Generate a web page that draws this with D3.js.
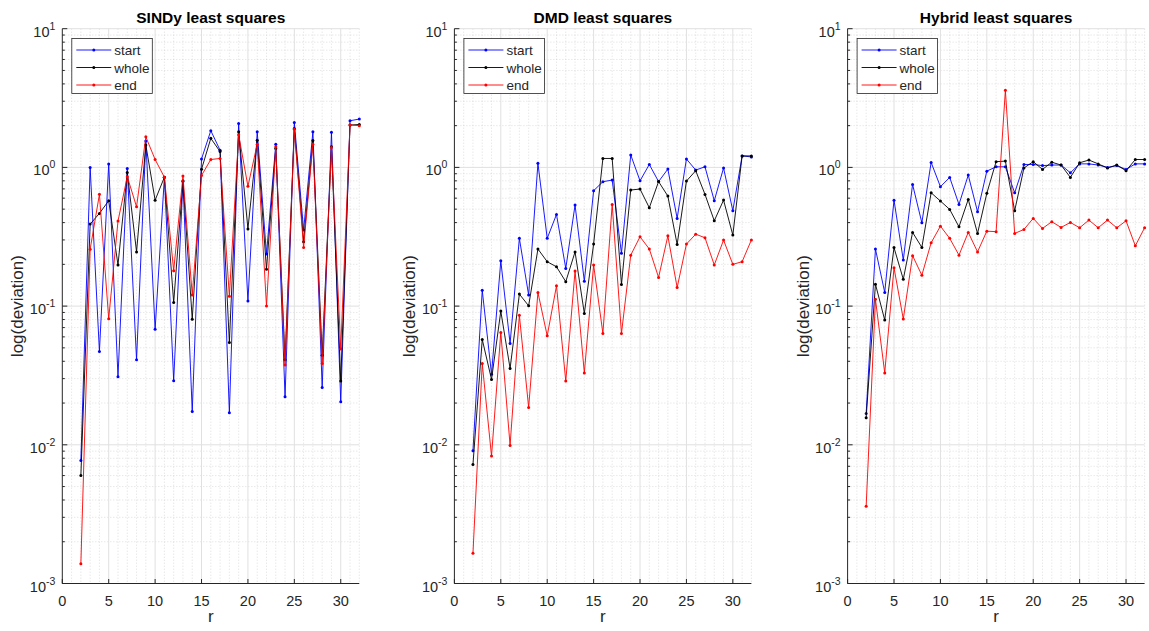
<!DOCTYPE html>
<html>
<head>
<meta charset="utf-8">
<script src="https://cdn.jsdelivr.net/npm/d3@7"></script>
<style>
  body { margin: 0; background: #fff; }
  svg { font-family: "Liberation Sans", Arial, Helvetica, sans-serif; display: block; }
</style>
</head>
<body>
<div id="chart"></div>
<script>
// r values on the x axis
var rValues = [2, 3, 4, 5, 6, 7, 8, 9, 10, 11, 12, 13, 14, 15, 16, 17,
  18, 19, 20, 21, 22, 23, 24, 25, 26, 27, 28, 29, 30, 31, 32];

var panelTitles = ["SINDy least squares", "DMD least squares", "Hybrid least squares"];
var seriesNames = ["start", "whole", "end"];
var seriesColors = ["#0000ff", "#000000", "#ff0000"];

var xTickValues = [0, 5, 10, 15, 20, 25, 30];
var yTickExponents = [-3, -2, -1, 0, 1];

// SINDy least squares
var sindyStart = [0.0077, 1.0, 0.047, 1.06, 0.031, 0.98, 0.041, 1.55, 0.068, 0.85, 0.029,
  0.79, 0.0174, 1.15, 1.84, 1.33, 0.017, 2.07, 0.109, 1.81, 0.237, 1.47, 0.0222, 2.11,
  0.353, 1.81, 0.0259, 1.79, 0.0204, 2.17, 2.23];
var sindyWhole = [0.006, 0.39, 0.466, 0.575, 0.198, 0.92, 0.246, 1.45, 0.58, 0.85, 0.106,
  0.80, 0.0805, 0.97, 1.62, 1.3, 0.0547, 1.81, 0.36, 1.57, 0.184, 1.37, 0.041, 1.91,
  0.291, 1.56, 0.0443, 1.41, 0.0288, 2.02, 2.04];
var sindyEnd = [0.00139, 0.257, 0.64, 0.081, 0.41, 0.857, 0.52, 1.66, 1.14, 0.85, 0.18,
  0.866, 0.12, 0.875, 1.14, 1.16, 0.118, 1.72, 0.73, 1.47, 0.1, 1.41, 0.0376, 1.88,
  0.264, 1.47, 0.0386, 1.39, 0.049, 2.02, 2.0];

// DMD least squares
var dmdStart = [0.00906, 0.130, 0.0323, 0.212, 0.0538, 0.308, 0.12, 1.07, 0.308, 0.458,
  0.187, 0.535, 0.151, 0.679, 0.789, 0.81, 0.24, 1.23, 0.80, 1.05, 0.79, 0.973, 0.429,
  1.15, 0.957, 1.01, 0.575, 0.99, 0.487, 1.21, 1.19];
var dmdWhole = [0.0072, 0.0575, 0.0296, 0.092, 0.0355, 0.122, 0.1005, 0.258, 0.209, 0.192,
  0.15, 0.246, 0.0885, 0.28, 1.16, 1.16, 0.143, 0.687, 0.698, 0.512, 0.79, 0.621, 0.278,
  0.797, 0.946, 0.639, 0.412, 0.581, 0.325, 1.21, 1.21];
var dmdEnd = [0.00165, 0.0386, 0.0083, 0.0646, 0.0099, 0.086, 0.0186, 0.1255, 0.061, 0.14,
  0.0288, 0.179, 0.033, 0.198, 0.0635, 0.541, 0.0635, 0.233, 0.316, 0.258, 0.161, 0.321,
  0.136, 0.28, 0.33, 0.311, 0.198, 0.299, 0.2, 0.209, 0.30];

// Hybrid least squares
var hybridStart = [0.0168, 0.258, 0.1255, 0.58, 0.215, 0.754, 0.399, 1.086, 0.726, 0.847,
  0.541, 0.88, 0.479, 0.94, 1.01, 1.01, 0.656, 1.05, 1.05, 1.03, 1.04, 1.04, 0.915, 1.06,
  1.06, 1.04, 1.0, 1.03, 0.967, 1.06, 1.06];
var hybridWhole = [0.0157, 0.144, 0.0793, 0.264, 0.156, 0.34, 0.265, 0.656, 0.572, 0.498,
  0.373, 0.588, 0.334, 0.65, 1.1, 1.11, 0.487, 0.99, 1.1, 0.967, 1.09, 1.04, 0.847, 1.08,
  1.13, 1.06, 0.99, 1.04, 0.946, 1.14, 1.14];
var hybridEnd = [0.00361, 0.112, 0.033, 0.189, 0.0806, 0.231, 0.167, 0.286, 0.377, 0.308,
  0.233, 0.34, 0.246, 0.347, 0.344, 3.6, 0.334, 0.357, 0.429, 0.363, 0.406, 0.369, 0.401,
  0.367, 0.417, 0.367, 0.417, 0.367, 0.412, 0.272, 0.367];

var panelSeries = [
  [sindyStart, sindyWhole, sindyEnd],
  [dmdStart, dmdWhole, dmdEnd],
  [hybridStart, hybridWhole, hybridEnd]
];

var width = 1149, height = 631;
var panelLefts = [62.3, 454.4, 847.6];
var panelWidth = 297;
var plotTop = 28.7, plotBottom = 583.5;
var axisColor = "#262626";

var svg = d3.select("#chart").append("svg")
  .attr("width", width)
  .attr("height", height);

var y = d3.scaleLog().domain([1e-3, 10]).range([plotBottom, plotTop]);

// minor values for log grid: 2..9 in each decade
var yMinor = [];
yTickExponents.slice(0, -1).forEach(function (e) {
  for (var k = 2; k <= 9; k++) yMinor.push(k * Math.pow(10, e));
});

panelTitles.forEach(function (title, i) {
  var x = d3.scaleLinear().domain([0, 32]).range([0, panelWidth]);
  var g = svg.append("g").attr("transform", "translate(" + panelLefts[i] + ",0)");

  // Minor grid, dotted
  var xMinor = d3.range(1, 33).filter(function (v) { return v % 5 !== 0; });
  g.append("g").selectAll("line").data(xMinor).join("line")
    .attr("x1", function (d) { return x(d); }).attr("x2", function (d) { return x(d); })
    .attr("y1", plotTop).attr("y2", plotBottom)
    .attr("stroke", "#c8c8c8").attr("stroke-width", 0.6).attr("stroke-dasharray", "1,2");
  g.append("g").selectAll("line").data(yMinor).join("line")
    .attr("x1", 0).attr("x2", panelWidth)
    .attr("y1", function (d) { return y(d); }).attr("y2", function (d) { return y(d); })
    .attr("stroke", "#c8c8c8").attr("stroke-width", 0.6).attr("stroke-dasharray", "1,2");

  // Major grid
  g.append("g").selectAll("line").data(xTickValues.slice(1)).join("line")
    .attr("x1", function (d) { return x(d); }).attr("x2", function (d) { return x(d); })
    .attr("y1", plotTop).attr("y2", plotBottom)
    .attr("stroke", "#e0e0e0").attr("stroke-width", 1);
  g.append("g").selectAll("line").data(yTickExponents.slice(1)).join("line")
    .attr("x1", 0).attr("x2", panelWidth)
    .attr("y1", function (d) { return y(Math.pow(10, d)); })
    .attr("y2", function (d) { return y(Math.pow(10, d)); })
    .attr("stroke", "#e0e0e0").attr("stroke-width", 1);

  // Axes lines and inward ticks
  var ax = g.append("g").attr("stroke", axisColor).attr("stroke-width", 1);
  ax.append("line").attr("x1", 0).attr("x2", 0).attr("y1", plotTop).attr("y2", plotBottom);
  ax.append("line").attr("x1", 0).attr("x2", panelWidth).attr("y1", plotBottom).attr("y2", plotBottom);
  ax.selectAll(".ymaj").data(yTickExponents).join("line")
    .attr("x1", 0).attr("x2", 5)
    .attr("y1", function (d) { return y(Math.pow(10, d)); })
    .attr("y2", function (d) { return y(Math.pow(10, d)); });
  ax.selectAll(".ymin").data(yMinor).join("line")
    .attr("x1", 0).attr("x2", 2.5)
    .attr("y1", function (d) { return y(d); }).attr("y2", function (d) { return y(d); });
  ax.selectAll(".xmaj").data(xTickValues).join("line")
    .attr("x1", function (d) { return x(d); }).attr("x2", function (d) { return x(d); })
    .attr("y1", plotBottom).attr("y2", plotBottom - 4.5);

  // Tick labels
  g.append("g").selectAll("text").data(xTickValues).join("text")
    .attr("x", function (d) { return x(d); })
    .attr("y", plotBottom + 22)
    .attr("text-anchor", "middle")
    .attr("fill", axisColor)
    .attr("font-size", 14.5)
    .text(function (d) { return d; });

  var yl = g.append("g").selectAll("text").data(yTickExponents).join("text")
    .attr("x", -7)
    .attr("y", function (d) { return y(Math.pow(10, d)) + 8; })
    .attr("text-anchor", "end")
    .attr("fill", axisColor)
    .attr("font-size", 14.5);
  yl.append("tspan").text("10");
  yl.append("tspan").attr("dy", -7).attr("font-size", 10.5)
    .text(function (d) { return d < 0 ? "-" + (-d) : d; });

  // Axis labels and title
  g.append("text")
    .attr("transform", "translate(-39," + ((plotTop + plotBottom) / 2) + ") rotate(-90)")
    .attr("text-anchor", "middle")
    .attr("fill", axisColor)
    .attr("font-size", 17)
    .text("log(deviation)");
  g.append("text")
    .attr("x", panelWidth / 2).attr("y", 622)
    .attr("text-anchor", "middle")
    .attr("fill", axisColor)
    .attr("font-size", 17)
    .text("r");
  g.append("text")
    .attr("x", panelWidth / 2).attr("y", 23)
    .attr("text-anchor", "middle")
    .attr("font-size", 15.5)
    .attr("font-weight", "bold")
    .attr("fill", "#000")
    .text(title);

  // Series lines with dot markers
  var line = d3.line()
    .x(function (d, j) { return x(rValues[j]); })
    .y(function (d) { return y(d); });

  panelSeries[i].forEach(function (values, s) {
    g.append("path")
      .datum(values)
      .attr("d", line)
      .attr("fill", "none")
      .attr("stroke", seriesColors[s])
      .attr("stroke-width", 0.9);
    g.append("g").selectAll("circle").data(values).join("circle")
      .attr("cx", function (d, j) { return x(rValues[j]); })
      .attr("cy", function (d) { return y(d); })
      .attr("r", 1.5)
      .attr("fill", seriesColors[s]);
  });

  // Legend
  var lg = g.append("g").attr("transform", "translate(9.5,38.5)");
  lg.append("rect")
    .attr("width", 80.5).attr("height", 55)
    .attr("fill", "#fff")
    .attr("stroke", axisColor).attr("stroke-width", 0.8);
  seriesNames.forEach(function (name, s) {
    var ly = 11.5 + s * 17.5;
    lg.append("line")
      .attr("x1", 4.5).attr("x2", 39.5).attr("y1", ly).attr("y2", ly)
      .attr("stroke", seriesColors[s]).attr("stroke-width", s === 0 ? 1.4 : 0.9)
      .attr("stroke-opacity", s === 0 ? 0.6 : 1);
    lg.append("circle").attr("cx", 22).attr("cy", ly).attr("r", 1.5).attr("fill", seriesColors[s]);
    lg.append("text")
      .attr("x", 42.5).attr("y", ly + 5)
      .attr("font-size", 13.5)
      .attr("fill", axisColor)
      .text(name);
  });
});
</script>
</body>
</html>
